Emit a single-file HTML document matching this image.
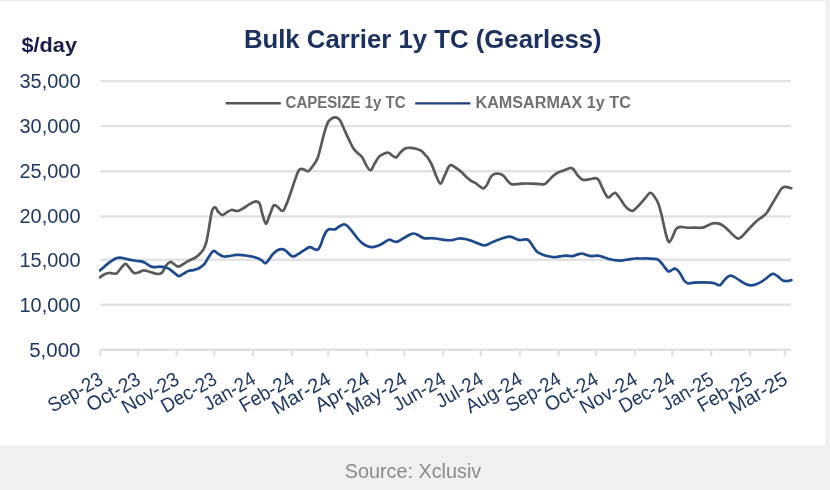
<!DOCTYPE html><html><head><meta charset="utf-8"><title>Bulk Carrier 1y TC (Gearless)</title><style>html,body{margin:0;padding:0;background:#f0f0f0;}svg{display:block;filter:blur(0.6px);}text{font-family:"Liberation Sans",Arial,sans-serif;}</style></head><body>
<svg width="830" height="490" viewBox="0 0 830 490">
<rect x="0" y="0" width="830" height="490" fill="#f0f0f0"/>
<rect x="0" y="1.5" width="825.4" height="443.7" fill="#ffffff"/>
<line x1="100.4" y1="81.1" x2="791.0" y2="81.1" stroke="#e2e2e2" stroke-width="2.4"/>
<line x1="100.4" y1="126.1" x2="791.0" y2="126.1" stroke="#e2e2e2" stroke-width="2.4"/>
<line x1="100.4" y1="171.2" x2="791.0" y2="171.2" stroke="#e2e2e2" stroke-width="2.4"/>
<line x1="100.4" y1="216.5" x2="791.0" y2="216.5" stroke="#e2e2e2" stroke-width="2.4"/>
<line x1="100.4" y1="259.7" x2="791.0" y2="259.7" stroke="#e2e2e2" stroke-width="2.4"/>
<line x1="100.4" y1="304.7" x2="791.0" y2="304.7" stroke="#e2e2e2" stroke-width="2.4"/>
<line x1="100.4" y1="349.7" x2="791.0" y2="349.7" stroke="#e2e2e2" stroke-width="2.4"/>
<line x1="100.4" y1="349.7" x2="100.4" y2="356.2" stroke="#e2e2e2" stroke-width="2.4"/>
<line x1="137.9" y1="349.7" x2="137.9" y2="356.2" stroke="#e2e2e2" stroke-width="2.4"/>
<line x1="176.7" y1="349.7" x2="176.7" y2="356.2" stroke="#e2e2e2" stroke-width="2.4"/>
<line x1="214.3" y1="349.7" x2="214.3" y2="356.2" stroke="#e2e2e2" stroke-width="2.4"/>
<line x1="253.1" y1="349.7" x2="253.1" y2="356.2" stroke="#e2e2e2" stroke-width="2.4"/>
<line x1="291.9" y1="349.7" x2="291.9" y2="356.2" stroke="#e2e2e2" stroke-width="2.4"/>
<line x1="328.2" y1="349.7" x2="328.2" y2="356.2" stroke="#e2e2e2" stroke-width="2.4"/>
<line x1="367.0" y1="349.7" x2="367.0" y2="356.2" stroke="#e2e2e2" stroke-width="2.4"/>
<line x1="404.5" y1="349.7" x2="404.5" y2="356.2" stroke="#e2e2e2" stroke-width="2.4"/>
<line x1="443.3" y1="349.7" x2="443.3" y2="356.2" stroke="#e2e2e2" stroke-width="2.4"/>
<line x1="480.9" y1="349.7" x2="480.9" y2="356.2" stroke="#e2e2e2" stroke-width="2.4"/>
<line x1="519.7" y1="349.7" x2="519.7" y2="356.2" stroke="#e2e2e2" stroke-width="2.4"/>
<line x1="558.5" y1="349.7" x2="558.5" y2="356.2" stroke="#e2e2e2" stroke-width="2.4"/>
<line x1="596.0" y1="349.7" x2="596.0" y2="356.2" stroke="#e2e2e2" stroke-width="2.4"/>
<line x1="634.8" y1="349.7" x2="634.8" y2="356.2" stroke="#e2e2e2" stroke-width="2.4"/>
<line x1="672.4" y1="349.7" x2="672.4" y2="356.2" stroke="#e2e2e2" stroke-width="2.4"/>
<line x1="711.2" y1="349.7" x2="711.2" y2="356.2" stroke="#e2e2e2" stroke-width="2.4"/>
<line x1="750.0" y1="349.7" x2="750.0" y2="356.2" stroke="#e2e2e2" stroke-width="2.4"/>
<line x1="785.0" y1="349.7" x2="785.0" y2="356.2" stroke="#e2e2e2" stroke-width="2.4"/>
<text x="80.5" y="88.0" text-anchor="end" font-size="20.5" fill="#1f3864" textLength="61.0" lengthAdjust="spacingAndGlyphs">35,000</text>
<text x="80.5" y="133.0" text-anchor="end" font-size="20.5" fill="#1f3864" textLength="61.0" lengthAdjust="spacingAndGlyphs">30,000</text>
<text x="80.5" y="178.1" text-anchor="end" font-size="20.5" fill="#1f3864" textLength="61.0" lengthAdjust="spacingAndGlyphs">25,000</text>
<text x="80.5" y="223.4" text-anchor="end" font-size="20.5" fill="#1f3864" textLength="61.0" lengthAdjust="spacingAndGlyphs">20,000</text>
<text x="80.5" y="266.6" text-anchor="end" font-size="20.5" fill="#1f3864" textLength="61.0" lengthAdjust="spacingAndGlyphs">15,000</text>
<text x="80.5" y="311.6" text-anchor="end" font-size="20.5" fill="#1f3864" textLength="61.0" lengthAdjust="spacingAndGlyphs">10,000</text>
<text x="80.5" y="356.6" text-anchor="end" font-size="20.5" fill="#1f3864">5,000</text>
<text x="104.4" y="383.0" text-anchor="end" font-size="20" fill="#1f3864" textLength="59.7" lengthAdjust="spacingAndGlyphs" transform="rotate(-30 104.4 383.0)">Sep-23</text>
<text x="141.9" y="383.0" text-anchor="end" font-size="20" fill="#1f3864" textLength="58.4" lengthAdjust="spacingAndGlyphs" transform="rotate(-30 141.9 383.0)">Oct-23</text>
<text x="180.7" y="383.0" text-anchor="end" font-size="20" fill="#1f3864" textLength="62.7" lengthAdjust="spacingAndGlyphs" transform="rotate(-30 180.7 383.0)">Nov-23</text>
<text x="218.3" y="383.0" text-anchor="end" font-size="20" fill="#1f3864" textLength="60.8" lengthAdjust="spacingAndGlyphs" transform="rotate(-30 218.3 383.0)">Dec-23</text>
<text x="257.1" y="383.0" text-anchor="end" font-size="20" fill="#1f3864" textLength="56.3" lengthAdjust="spacingAndGlyphs" transform="rotate(-30 257.1 383.0)">Jan-24</text>
<text x="295.9" y="383.0" text-anchor="end" font-size="20" fill="#1f3864" textLength="59.7" lengthAdjust="spacingAndGlyphs" transform="rotate(-30 295.9 383.0)">Feb-24</text>
<text x="332.2" y="383.0" text-anchor="end" font-size="20" fill="#1f3864" textLength="64.0" lengthAdjust="spacingAndGlyphs" transform="rotate(-30 332.2 383.0)">Mar-24</text>
<text x="371.0" y="383.0" text-anchor="end" font-size="20" fill="#1f3864" textLength="59.1" lengthAdjust="spacingAndGlyphs" transform="rotate(-30 371.0 383.0)">Apr-24</text>
<text x="408.5" y="383.0" text-anchor="end" font-size="20" fill="#1f3864" textLength="66.2" lengthAdjust="spacingAndGlyphs" transform="rotate(-30 408.5 383.0)">May-24</text>
<text x="447.3" y="383.0" text-anchor="end" font-size="20" fill="#1f3864" textLength="57.3" lengthAdjust="spacingAndGlyphs" transform="rotate(-30 447.3 383.0)">Jun-24</text>
<text x="484.9" y="383.0" text-anchor="end" font-size="20" fill="#1f3864" textLength="51.0" lengthAdjust="spacingAndGlyphs" transform="rotate(-30 484.9 383.0)">Jul-24</text>
<text x="523.7" y="383.0" text-anchor="end" font-size="20" fill="#1f3864" textLength="61.7" lengthAdjust="spacingAndGlyphs" transform="rotate(-30 523.7 383.0)">Aug-24</text>
<text x="562.5" y="383.0" text-anchor="end" font-size="20" fill="#1f3864" textLength="59.7" lengthAdjust="spacingAndGlyphs" transform="rotate(-30 562.5 383.0)">Sep-24</text>
<text x="600.0" y="383.0" text-anchor="end" font-size="20" fill="#1f3864" textLength="58.4" lengthAdjust="spacingAndGlyphs" transform="rotate(-30 600.0 383.0)">Oct-24</text>
<text x="638.8" y="383.0" text-anchor="end" font-size="20" fill="#1f3864" textLength="62.7" lengthAdjust="spacingAndGlyphs" transform="rotate(-30 638.8 383.0)">Nov-24</text>
<text x="676.4" y="383.0" text-anchor="end" font-size="20" fill="#1f3864" textLength="60.8" lengthAdjust="spacingAndGlyphs" transform="rotate(-30 676.4 383.0)">Dec-24</text>
<text x="715.2" y="383.0" text-anchor="end" font-size="20" fill="#1f3864" textLength="56.3" lengthAdjust="spacingAndGlyphs" transform="rotate(-30 715.2 383.0)">Jan-25</text>
<text x="754.0" y="383.0" text-anchor="end" font-size="20" fill="#1f3864" textLength="59.7" lengthAdjust="spacingAndGlyphs" transform="rotate(-30 754.0 383.0)">Feb-25</text>
<text x="789.0" y="383.0" text-anchor="end" font-size="20" fill="#1f3864" textLength="64.0" lengthAdjust="spacingAndGlyphs" transform="rotate(-30 789.0 383.0)">Mar-25</text>
<path d="M100.1 277.3 C100.7 276.9 102.3 275.4 103.7 274.7 C105.1 274.0 107.1 273.2 108.7 273.0 C110.3 272.8 111.8 273.4 113.1 273.5 C114.4 273.6 115.4 274.2 116.7 273.3 C118.0 272.4 119.5 269.8 121.0 268.2 C122.5 266.6 124.1 263.9 125.6 263.9 C127.0 263.9 128.3 266.7 129.7 268.2 C131.1 269.7 132.6 272.3 134.0 273.0 C135.4 273.7 136.8 272.9 138.4 272.5 C140.0 272.1 141.7 270.6 143.4 270.4 C145.1 270.2 146.7 271.0 148.5 271.5 C150.3 272.0 152.6 272.9 154.3 273.3 C156.0 273.7 157.3 274.1 158.6 274.0 C159.9 273.9 161.0 273.8 162.2 272.5 C163.4 271.2 164.5 267.8 165.8 266.0 C167.1 264.2 168.9 262.4 170.2 262.0 C171.5 261.6 172.5 263.1 173.8 263.9 C175.1 264.7 176.7 266.6 178.1 266.7 C179.5 266.8 180.9 265.5 182.5 264.6 C184.1 263.7 185.7 262.4 187.5 261.4 C189.3 260.4 191.5 259.8 193.3 258.8 C195.1 257.8 196.7 256.8 198.4 255.2 C200.1 253.6 202.2 251.7 203.5 249.4 C204.8 247.1 205.6 245.1 206.5 241.4 C207.4 237.7 208.2 232.4 209.1 227.3 C210.0 222.2 211.0 214.3 212.0 211.0 C213.0 207.7 214.2 207.1 215.3 207.3 C216.4 207.5 217.1 210.7 218.3 212.0 C219.5 213.3 221.0 215.0 222.3 215.1 C223.7 215.2 224.9 213.5 226.4 212.7 C227.9 211.8 229.6 210.3 231.5 210.0 C233.4 209.7 235.6 211.3 237.7 211.0 C239.8 210.7 241.8 209.2 243.8 208.0 C245.8 206.8 247.9 205.0 249.9 203.9 C251.9 202.8 254.4 201.4 256.0 201.4 C257.6 201.4 258.7 202.0 259.7 203.9 C260.7 205.8 261.1 209.8 262.1 213.1 C263.1 216.4 264.6 223.2 265.8 223.7 C267.0 224.2 268.0 219.1 269.3 216.1 C270.6 213.1 272.2 207.6 273.4 205.9 C274.6 204.2 274.9 205.1 276.4 205.9 C277.9 206.8 280.9 211.3 282.6 211.0 C284.3 210.7 285.2 207.0 286.6 203.9 C288.0 200.8 289.3 196.6 290.7 192.7 C292.1 188.8 293.4 184.2 294.8 180.4 C296.2 176.7 297.5 172.1 298.9 170.2 C300.3 168.3 301.5 169.0 303.0 169.2 C304.5 169.4 306.6 171.5 308.1 171.2 C309.6 170.8 310.6 169.1 312.1 167.1 C313.6 165.1 315.9 162.2 317.3 158.9 C318.7 155.6 319.5 151.5 320.6 147.4 C321.7 143.3 322.7 138.5 323.9 134.4 C325.1 130.3 326.4 125.3 327.8 122.6 C329.2 119.9 330.6 119.2 332.0 118.3 C333.4 117.4 334.7 117.1 336.0 117.4 C337.3 117.7 338.6 118.2 340.0 120.2 C341.4 122.2 342.8 126.2 344.3 129.5 C345.8 132.8 347.7 137.0 349.2 140.1 C350.7 143.2 351.9 146.2 353.3 148.3 C354.7 150.4 355.8 151.2 357.3 152.7 C358.8 154.2 360.7 155.1 362.2 157.2 C363.7 159.3 364.9 163.2 366.3 165.4 C367.7 167.6 369.3 170.6 370.7 170.3 C372.1 170.0 373.1 166.1 374.5 163.8 C375.9 161.5 377.8 158.1 379.4 156.4 C381.0 154.7 382.8 154.1 384.3 153.5 C385.8 152.9 387.0 152.3 388.4 152.7 C389.8 153.0 391.0 154.8 392.4 155.6 C393.8 156.3 395.1 157.8 396.5 157.2 C397.9 156.6 399.1 153.8 400.6 152.3 C402.1 150.8 403.9 149.1 405.5 148.3 C407.1 147.6 408.6 147.7 410.4 147.8 C412.2 147.9 414.3 148.3 416.1 148.8 C417.9 149.3 419.4 149.6 421.0 150.7 C422.6 151.8 424.7 154.3 425.9 155.6 C427.1 156.9 427.2 156.9 428.3 158.6 C429.4 160.3 431.0 162.9 432.3 165.9 C433.6 168.9 435.0 173.6 436.4 176.5 C437.8 179.4 439.1 183.7 440.5 183.6 C441.9 183.5 443.2 178.5 444.6 175.7 C446.0 172.9 447.6 168.5 448.7 166.7 C449.8 164.9 450.2 164.9 451.4 165.1 C452.6 165.3 454.4 166.8 456.0 167.9 C457.6 169.0 459.3 170.2 460.9 171.6 C462.5 173.0 464.2 175.0 465.8 176.5 C467.4 178.0 469.1 179.5 470.7 180.6 C472.3 181.7 474.1 182.1 475.6 183.1 C477.1 184.1 478.3 185.4 479.7 186.3 C481.1 187.2 482.6 188.7 483.8 188.4 C485.0 188.1 485.8 186.7 487.0 184.7 C488.2 182.7 489.7 178.3 491.1 176.5 C492.5 174.7 493.8 174.2 495.2 173.8 C496.6 173.4 497.9 173.5 499.3 173.8 C500.7 174.1 502.0 174.6 503.4 175.7 C504.8 176.8 506.0 179.2 507.4 180.6 C508.8 182.0 510.0 183.6 511.5 184.2 C513.0 184.8 514.5 184.3 516.4 184.2 C518.3 184.1 520.5 183.7 523.0 183.6 C525.5 183.5 528.6 183.5 531.1 183.6 C533.6 183.7 535.5 183.8 537.7 183.9 C539.9 184.0 542.4 184.8 544.1 184.3 C545.9 183.8 546.7 182.4 548.2 181.0 C549.7 179.6 551.5 177.5 553.1 176.1 C554.7 174.7 556.2 173.4 558.0 172.5 C559.8 171.6 561.7 171.2 563.7 170.4 C565.7 169.7 568.6 168.2 570.2 168.0 C571.8 167.8 572.3 168.1 573.5 169.3 C574.7 170.5 576.1 173.6 577.6 175.3 C579.1 177.0 580.5 179.0 582.4 179.7 C584.3 180.4 586.8 179.7 589.0 179.4 C591.2 179.1 593.9 178.0 595.5 178.1 C597.1 178.2 597.6 178.3 598.8 180.2 C600.0 182.0 601.4 186.3 602.9 189.2 C604.4 192.0 606.3 196.4 607.8 197.3 C609.3 198.2 610.6 195.7 611.8 194.9 C613.0 194.2 613.9 192.4 615.1 192.8 C616.3 193.2 617.7 195.3 619.2 197.3 C620.7 199.3 622.5 202.6 624.1 204.7 C625.7 206.8 627.5 208.6 629.0 209.6 C630.5 210.6 631.6 211.2 633.1 210.7 C634.6 210.1 636.1 208.2 638.0 206.3 C639.9 204.4 642.5 201.2 644.5 199.0 C646.5 196.8 648.6 193.2 650.2 192.8 C651.8 192.4 652.9 194.7 654.3 196.5 C655.7 198.3 657.2 200.5 658.4 203.7 C659.6 206.9 660.7 211.6 661.7 215.5 C662.7 219.4 663.4 223.6 664.3 227.3 C665.1 231.0 666.0 235.0 666.8 237.5 C667.6 240.0 668.3 242.3 669.3 242.2 C670.3 242.0 671.6 238.8 672.7 236.6 C673.8 234.4 674.8 230.6 676.1 229.0 C677.4 227.4 678.5 227.0 680.3 226.8 C682.1 226.6 684.5 227.5 687.0 227.7 C689.5 227.8 693.0 227.7 695.5 227.7 C698.0 227.7 700.2 228.0 702.2 227.7 C704.2 227.4 705.5 226.4 707.3 225.7 C709.1 225.0 711.2 223.7 713.2 223.3 C715.2 223.0 717.3 223.1 719.1 223.6 C720.9 224.1 722.5 225.2 724.2 226.5 C725.9 227.8 727.5 229.5 729.2 231.1 C730.9 232.7 732.8 234.8 734.3 236.1 C735.8 237.3 737.1 238.6 738.5 238.6 C739.9 238.6 740.9 237.5 742.7 235.8 C744.5 234.1 747.2 230.6 749.5 228.2 C751.8 225.8 754.0 223.4 756.2 221.4 C758.5 219.4 761.2 217.9 763.0 216.4 C764.8 214.9 765.7 214.3 767.2 212.2 C768.7 210.1 770.5 206.5 772.2 203.7 C773.9 200.9 775.8 197.8 777.3 195.3 C778.8 192.8 780.2 190.0 781.5 188.6 C782.8 187.2 783.8 187.1 784.9 186.9 C786.0 186.7 787.1 187.2 788.2 187.4 C789.3 187.6 790.8 188.1 791.3 188.2" fill="none" stroke="#595959" stroke-width="2.7" stroke-linejoin="round" stroke-linecap="round"/>
<path d="M100.1 270.4 C100.9 269.7 103.3 267.5 105.1 266.0 C106.9 264.5 109.0 262.7 110.9 261.4 C112.8 260.1 115.1 258.7 116.7 258.1 C118.3 257.5 118.8 257.5 120.3 257.6 C121.8 257.7 123.6 258.4 125.4 258.8 C127.2 259.2 129.2 259.6 131.1 260.0 C133.0 260.4 135.2 260.8 136.9 261.0 C138.6 261.2 139.9 261.0 141.3 261.4 C142.8 261.8 144.2 262.3 145.6 263.1 C147.0 263.9 148.4 265.3 149.9 266.0 C151.4 266.7 152.7 267.1 154.3 267.2 C155.9 267.3 157.6 266.7 159.3 266.7 C161.0 266.7 162.8 266.9 164.4 267.2 C166.0 267.5 167.1 267.7 168.7 268.6 C170.3 269.5 172.1 271.2 173.8 272.5 C175.5 273.8 177.3 275.9 178.9 276.1 C180.5 276.3 181.6 274.7 183.2 273.9 C184.8 273.1 186.6 271.7 188.3 271.1 C190.0 270.5 191.6 270.5 193.3 270.1 C195.0 269.7 197.0 269.2 198.4 268.6 C199.8 268.0 200.4 267.3 201.5 266.5 C202.6 265.7 203.5 265.1 204.7 263.6 C205.9 262.1 207.4 259.1 208.6 257.3 C209.8 255.5 210.7 253.7 211.7 252.6 C212.7 251.5 213.2 250.7 214.4 251.0 C215.6 251.3 217.3 253.3 218.8 254.2 C220.3 255.1 221.7 256.2 223.5 256.5 C225.3 256.8 227.7 256.3 229.8 256.0 C231.9 255.7 233.9 255.1 236.0 254.9 C238.1 254.8 240.2 254.9 242.3 255.1 C244.4 255.3 246.5 255.6 248.6 256.0 C250.7 256.4 253.0 256.8 254.8 257.3 C256.6 257.8 258.2 258.2 259.5 258.9 C260.8 259.5 261.6 260.5 262.6 261.2 C263.6 261.9 264.4 263.5 265.5 263.2 C266.6 262.9 267.7 261.1 268.9 259.6 C270.1 258.1 271.4 255.8 272.8 254.2 C274.2 252.6 275.9 251.0 277.5 250.2 C279.1 249.3 280.8 249.0 282.2 249.1 C283.6 249.2 284.8 250.0 286.1 251.0 C287.4 252.0 288.9 254.0 290.1 254.9 C291.3 255.8 291.9 256.6 293.2 256.5 C294.5 256.4 296.2 255.2 297.9 254.2 C299.6 253.2 301.4 251.9 303.4 250.7 C305.3 249.5 307.9 247.4 309.6 247.1 C311.3 246.8 312.2 248.2 313.5 248.7 C314.8 249.1 316.3 250.3 317.5 249.8 C318.7 249.3 319.5 247.6 320.5 245.5 C321.5 243.4 322.3 239.8 323.3 237.5 C324.3 235.2 325.3 232.8 326.3 231.4 C327.3 230.0 328.0 229.4 329.4 229.1 C330.8 228.8 333.2 229.9 334.9 229.4 C336.6 228.9 338.1 227.1 339.6 226.3 C341.1 225.5 342.5 224.5 343.8 224.4 C345.1 224.3 346.0 224.8 347.4 226.0 C348.8 227.2 350.4 229.3 352.1 231.4 C353.8 233.5 355.9 236.5 357.6 238.5 C359.3 240.5 360.7 241.9 362.3 243.2 C363.9 244.4 365.4 245.3 367.0 246.0 C368.6 246.7 370.0 247.1 371.7 247.1 C373.4 247.1 375.4 246.6 377.2 246.0 C379.0 245.4 380.7 244.6 382.6 243.5 C384.6 242.4 387.1 240.1 388.9 239.7 C390.7 239.3 392.2 241.0 393.6 241.3 C395.0 241.6 395.9 242.1 397.5 241.6 C399.1 241.1 401.0 239.6 403.0 238.5 C405.0 237.4 407.5 235.8 409.3 235.0 C411.1 234.2 412.4 233.4 414.0 233.5 C415.6 233.6 417.0 234.6 418.7 235.4 C420.4 236.2 422.2 237.7 424.1 238.2 C426.1 238.7 428.4 238.1 430.4 238.2 C432.4 238.2 433.9 238.2 435.9 238.5 C437.9 238.8 440.5 239.4 442.2 239.7 C443.9 240.0 444.6 240.0 446.3 240.1 C448.0 240.2 450.4 240.4 452.5 240.1 C454.6 239.8 456.7 238.7 458.8 238.5 C460.9 238.3 463.0 238.6 465.1 239.0 C467.2 239.4 469.2 240.1 471.3 240.8 C473.4 241.5 475.4 242.4 477.6 243.2 C479.8 244.0 482.5 245.5 484.6 245.5 C486.7 245.5 488.1 244.0 490.1 243.2 C492.1 242.3 494.3 241.2 496.4 240.4 C498.5 239.6 500.4 238.8 502.6 238.2 C504.8 237.6 507.6 236.5 509.7 236.6 C511.8 236.7 513.5 237.9 515.2 238.5 C516.9 239.1 518.3 240.0 519.9 240.1 C521.5 240.2 523.2 239.3 524.6 239.3 C526.0 239.3 527.2 239.1 528.5 240.1 C529.8 241.1 531.0 243.6 532.4 245.5 C533.8 247.4 535.3 250.2 537.1 251.8 C538.9 253.4 541.3 254.1 543.4 254.9 C545.5 255.7 547.5 256.1 549.6 256.5 C551.7 256.9 553.8 257.1 555.9 257.0 C558.0 256.9 560.5 256.2 562.2 256.0 C563.9 255.8 564.6 255.7 566.3 255.7 C568.0 255.7 570.7 256.3 572.5 256.1 C574.3 255.9 575.6 255.0 577.2 254.6 C578.8 254.2 580.3 253.4 581.9 253.5 C583.5 253.6 585.0 254.6 586.6 255.0 C588.2 255.4 589.5 256.0 591.3 256.1 C593.1 256.2 595.5 255.5 597.6 255.7 C599.7 255.9 601.8 256.6 603.9 257.2 C606.0 257.8 608.0 258.8 610.1 259.3 C612.2 259.8 614.3 260.2 616.4 260.4 C618.5 260.6 620.5 260.6 622.6 260.4 C624.7 260.2 626.8 259.6 628.9 259.3 C631.0 259.0 633.1 258.6 635.2 258.5 C637.3 258.4 639.3 258.5 641.4 258.5 C643.5 258.5 645.6 258.4 647.7 258.5 C649.8 258.6 652.2 258.5 654.0 258.8 C655.8 259.1 657.1 259.0 658.7 260.1 C660.3 261.2 661.8 263.6 663.4 265.5 C665.0 267.4 666.8 270.5 668.1 271.3 C669.5 272.1 670.3 270.6 671.5 270.2 C672.7 269.8 674.0 268.1 675.5 268.7 C677.0 269.2 678.8 271.5 680.2 273.5 C681.6 275.5 682.8 278.9 684.1 280.5 C685.4 282.1 686.4 283.0 688.0 283.4 C689.6 283.8 691.3 282.8 693.5 282.6 C695.7 282.4 698.4 282.4 701.3 282.4 C704.2 282.4 708.4 282.4 710.7 282.6 C713.1 282.8 713.9 283.3 715.4 283.7 C716.9 284.1 718.4 285.7 719.8 285.2 C721.2 284.7 722.4 282.1 724.0 280.5 C725.6 278.9 727.8 276.4 729.5 275.8 C731.2 275.2 732.4 276.0 734.2 276.9 C736.0 277.8 738.4 279.7 740.5 281.0 C742.6 282.3 744.6 283.8 746.7 284.5 C748.8 285.2 750.9 285.5 753.0 285.2 C755.1 284.9 757.2 283.9 759.3 282.9 C761.4 281.9 763.7 280.3 765.5 279.0 C767.3 277.7 768.9 276.0 770.2 275.1 C771.5 274.2 772.1 273.6 773.4 273.8 C774.7 274.1 776.5 275.5 778.1 276.6 C779.7 277.7 781.2 279.8 782.8 280.5 C784.4 281.2 786.1 281.1 787.5 281.0 C788.9 280.9 790.8 280.2 791.4 280.1" fill="none" stroke="#1d4a8e" stroke-width="2.7" stroke-linejoin="round" stroke-linecap="round"/>
<text x="243.9" y="48.2" font-size="26" font-weight="bold" fill="#1c3160" textLength="357.8" lengthAdjust="spacingAndGlyphs">Bulk Carrier 1y TC (Gearless)</text>
<text x="21.5" y="51.7" font-size="19.5" font-weight="bold" fill="#181c4c" textLength="55.5" lengthAdjust="spacingAndGlyphs">$/day</text>
<line x1="225.6" y1="103.3" x2="280.8" y2="103.3" stroke="#555555" stroke-width="2.4"/>
<text x="285.6" y="107.8" font-size="15.8" font-weight="bold" fill="#707070" textLength="120" lengthAdjust="spacingAndGlyphs">CAPESIZE 1y TC</text>
<line x1="415.2" y1="103.4" x2="470.4" y2="103.4" stroke="#1e3f7c" stroke-width="2.4"/>
<text x="475.5" y="107.8" font-size="15.8" font-weight="bold" fill="#707070" textLength="155.3" lengthAdjust="spacingAndGlyphs">KAMSARMAX 1y TC</text>
<text x="344.8" y="477.8" font-size="21" fill="#8a8a8a" textLength="136.4" lengthAdjust="spacingAndGlyphs">Source: Xclusiv</text>
</svg></body></html>
